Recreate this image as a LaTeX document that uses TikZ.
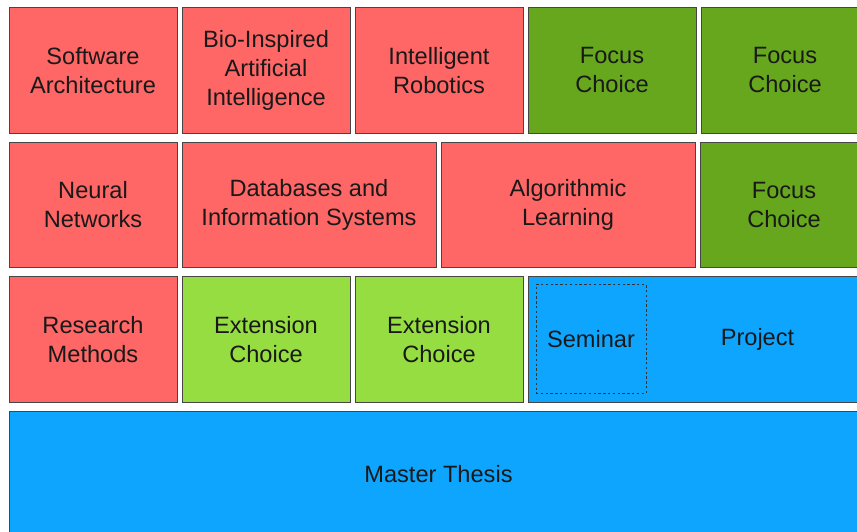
\documentclass[tikz,border=0pt]{standalone}
\usepackage{fontspec}
\setmainfont{Liberation Sans}
\usepackage{tikz}
\usetikzlibrary{positioning}

\definecolor{corered}{RGB}{255,102,102}
\definecolor{focusgreen}{RGB}{102,167,30}
\definecolor{extgreen}{RGB}{150,221,66}
\definecolor{projblue}{RGB}{14,165,255}
\definecolor{edgegray}{RGB}{70,70,70}

\begin{document}
\begin{tikzpicture}[
    x=1pt, y=1pt,
    module/.style={
        rectangle, draw=edgegray, line width=0.9pt,
        minimum width=168pt,
        minimum height=125.5pt,
        align=center,
        inner sep=0pt, outer sep=0pt,
        text=black!90,
        font=\fontsize{23.6}{29}\selectfont
    },
    core/.style={module, fill=corered},
    focus/.style={module, fill=focusgreen},
    extension/.style={module, fill=extgreen},
    practical/.style={module, fill=projblue},
    wide/.style={minimum width=254pt},
    lbl/.style={font=\fontsize{23.6}{29}\selectfont, text=black!90},
]

\useasboundingbox (0,0) rectangle (857,-531);
\clip (0,0) rectangle (857,-531);

% first row
\node[core] (swarch) at (93,-70.25) {Software\\Architecture};
\node[core, right=5pt of swarch] (bioai) {Bio-Inspired\\Artificial\\Intelligence};
\node[core, right=5pt of bioai] (robotics) {Intelligent\\Robotics};
\node[focus, right=5pt of robotics] (focusA) {Focus\\Choice};
\node[focus, right=5pt of focusA] (focusB) {Focus\\Choice};

% second row
\node[core, below=9pt of swarch] (neural) {Neural\\Networks};
\node[core, wide, right=5pt of neural] (dbis) {Databases and\\Information Systems};
\node[core, wide, right=5pt of dbis] (alglearn) {Algorithmic\\Learning};
\node[focus, right=5pt of alglearn] (focusC) {Focus\\Choice};

% third row
\node[core, below=9pt of neural] (resmeth) {Research\\Methods};
\node[extension, right=5pt of resmeth] (extA) {Extension\\Choice};
\node[extension, right=5pt of extA] (extB) {Extension\\Choice};
\node[practical, minimum width=341pt, right=5pt of extB] (project) {};
\node[module, draw=black!80, line width=1pt, dash pattern=on 2.4pt off 2.4pt,
      minimum width=110pt, minimum height=109pt,
      below right=8pt and 8pt of project.north west] (seminar) {Seminar};
\path (seminar.east) -- (project.east) node[lbl, midway] {Project};

% thesis
\node[practical, minimum width=859pt,
      below right=9pt and 0pt of resmeth.south west] (thesis) {Master Thesis};

\end{tikzpicture}
\end{document}
